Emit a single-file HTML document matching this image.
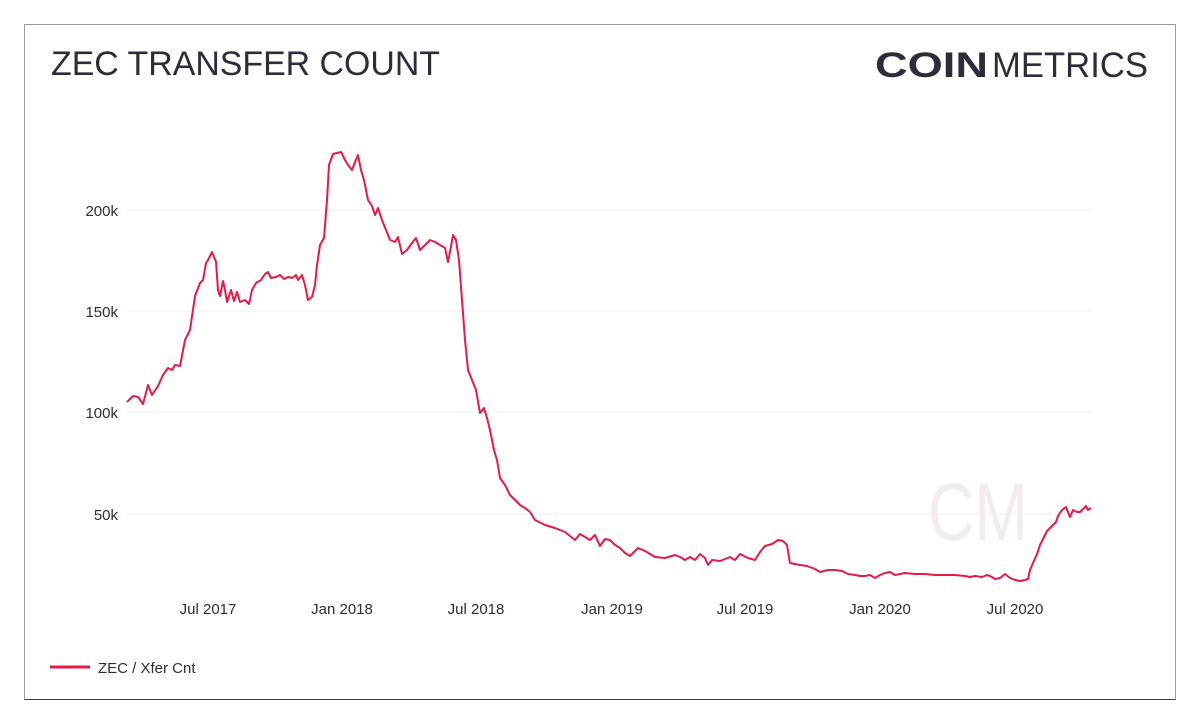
<!DOCTYPE html>
<html><head><meta charset="utf-8"><style>
html,body{margin:0;padding:0;background:#fff;}
body{width:1200px;height:724px;position:relative;overflow:hidden;font-family:"Liberation Sans",sans-serif;}
.box{position:absolute;left:24px;top:24px;width:1150px;height:674px;border:1.5px solid #9a9ca2;border-bottom-color:#3a3b45;}
</style></head><body>
<div class="box"></div>
<svg width="1200" height="724" style="position:absolute;left:0;top:0" xmlns="http://www.w3.org/2000/svg">
<text x="51" y="75" font-family="Liberation Sans,sans-serif" font-size="34" fill="#2b2d3a" textLength="389" lengthAdjust="spacingAndGlyphs">ZEC TRANSFER COUNT</text>
<text x="875" y="77" font-family="Liberation Sans,sans-serif" font-size="35" fill="#2b2d3a" font-weight="bold" textLength="113" lengthAdjust="spacingAndGlyphs">COIN</text>
<text x="992" y="77" font-family="Liberation Sans,sans-serif" font-size="35" fill="#2b2d3a" textLength="156" lengthAdjust="spacingAndGlyphs">METRICS</text>
<g stroke="#efefef" stroke-width="1">
<line x1="127" y1="210" x2="1092" y2="210"/><line x1="127" y1="311" x2="1092" y2="311"/>
<line x1="127" y1="412" x2="1092" y2="412"/><line x1="127" y1="514" x2="1092" y2="514"/>
</g>
<text x="928" y="540" font-family="Liberation Sans,sans-serif" font-size="82" fill="#f2eced" textLength="100" lengthAdjust="spacingAndGlyphs">CM</text>
<g font-family="Liberation Sans,sans-serif" font-size="15" fill="#2b2d3a" text-anchor="end">
<text x="118" y="216">200k</text><text x="118" y="317">150k</text><text x="118" y="418">100k</text><text x="118" y="520">50k</text>
</g>
<g font-family="Liberation Sans,sans-serif" font-size="15" fill="#2b2d3a" text-anchor="middle">
<text x="208" y="614">Jul 2017</text><text x="342" y="614">Jan 2018</text><text x="476" y="614">Jul 2018</text>
<text x="612" y="614">Jan 2019</text><text x="745" y="614">Jul 2019</text><text x="880" y="614">Jan 2020</text><text x="1015" y="614">Jul 2020</text>
</g>
<polyline fill="none" stroke="#e6194b" stroke-width="2" stroke-linejoin="round" points="127,402 133,396 138,397 143,404 148,385 152,395 158,386 163,375 168,368 172,370 175,365 180,366 185,340 190,330 195,296 200,283 203,280 206,263 208,260 212,252 214,257 216,262 218,290 220,296 223,281 225,290 227,302 231,290 234,301 237,292 240,302 245,300 249,304 252,290 256,283 261,280 265,274 268,272 271,278 276,277 280,275 284,279 288,277 292,278 296,275 298,280 302,275 305,285 308,300 312,297 315,285 317,265 320,245 324,238 327,200 329,165 333,154 337,153 341,152 345,160 348,165 352,170 355,162 358,155 361,170 364,180 368,200 372,206 375,215 378,208 382,220 386,230 390,240 395,242 398,237 402,254 407,250 412,243 416,238 420,250 425,245 430,240 435,242 440,245 445,248 448,262 450,252 453,235 456,240 459,260 462,300 465,340 468,370 472,380 476,390 480,413 484,408 487,418 490,430 494,450 497,460 500,478 505,485 510,495 515,500 520,505 525,508 530,512 535,520 545,525 555,528 565,532 570,536 575,540 580,534 585,537 590,540 595,535 600,546 605,539 610,540 615,545 620,548 625,553 630,556 638,548 645,551 650,554 655,557 665,558 675,555 680,557 685,560 690,557 695,560 700,554 705,558 708,565 712,560 720,561 730,557 735,560 740,554 748,558 755,560 760,552 765,546 772,544 778,540 783,541 787,545 790,563 800,565 807,566 815,569 820,572 828,570 835,570 842,571 848,574 855,575 860,576 865,576 870,575 875,578 880,575 885,573 890,572 895,575 900,574 905,573 915,574 925,574 935,575 945,575 955,575 965,576 970,577 975,576 982,577 987,575 990,576 995,579 1000,578 1005,574 1010,578 1015,580 1020,581 1025,580 1028,579 1030,570 1033,563 1037,554 1040,545 1042,541 1047,531 1052,526 1056,522 1058,516 1062,510 1066,507 1070,517 1073,510 1077,512 1080,512 1083,509 1086,506 1088,510 1091,508"/>
<line x1="50" y1="667" x2="90" y2="667" stroke="#e6194b" stroke-width="3"/>
<text x="98" y="673" font-family="Liberation Sans,sans-serif" font-size="15" fill="#2b2d3a">ZEC / Xfer Cnt</text>
</svg>
</body></html>
